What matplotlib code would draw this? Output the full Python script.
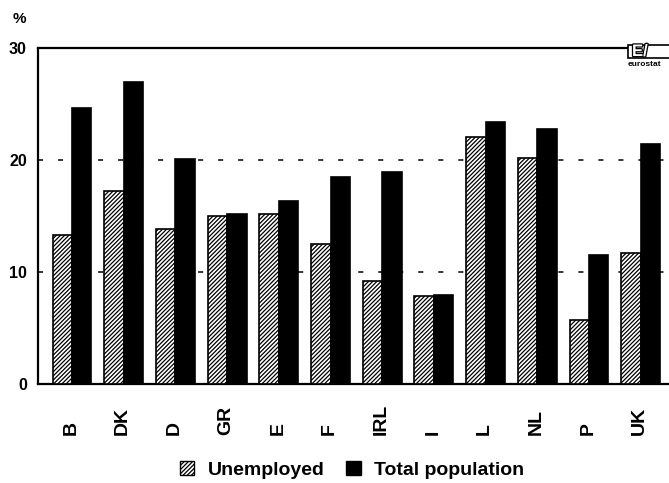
import matplotlib
matplotlib.use("Agg")
import matplotlib.pyplot as plt
import matplotlib.patheffects as pe
from matplotlib.patches import Patch, Rectangle
import matplotlib.transforms as mtransforms
import numpy as np

countries = ["B", "DK", "D", "GR", "E", "F", "IRL", "I", "L", "NL", "P", "UK"]
unemployed = [13.3, 17.2, 13.8, 15.0, 15.2, 12.5, 9.2, 7.8, 22.0, 20.2, 5.7, 11.7]
total_population = [24.6, 27.0, 20.1, 15.2, 16.3, 18.5, 18.9, 7.9, 23.4, 22.8, 11.5, 21.4]
y_ticks = [0, 10, 20, 30]
legend_labels = ["Unemployed", "Total population"]

plt.rcParams['font.family'] = ['Liberation Sans', 'DejaVu Sans']
plt.rcParams['font.weight'] = 'bold'
plt.rcParams['hatch.linewidth'] = 0.9
plt.rcParams['hatch.color'] = 'black'

W, H = 669, 483
fig = plt.figure(figsize=(W / 100, H / 100), dpi=100)
fig.patch.set_facecolor('white')

left_px, right_px, top_px, bottom_px = 38, 669, 48, 383.5
ax = fig.add_axes([left_px / W, (H - bottom_px) / H,
                   (right_px - left_px) / W, (bottom_px - top_px) / H])

x = np.arange(len(countries))
w = 0.377
HATCH = '/' * 8
ax.bar(x - w / 2, unemployed, width=w, color='white', edgecolor='black',
       linewidth=1.2, hatch=HATCH, zorder=3)
ax.bar(x + w / 2, total_population, width=w, color='black', edgecolor='black',
       linewidth=1.2, zorder=3)

group_px = 51.7
first_px = 72
ax.set_xlim(-(first_px - left_px) / group_px, (right_px - first_px) / group_px)
ax.set_ylim(0, 30)
ax.set_yticks(y_ticks)
ax.set_yticklabels([str(t) for t in y_ticks], fontsize=11.5, fontweight='bold')
ax.tick_params(axis='y', length=0, pad=8)
ax.set_xticks([])

for s in ['left', 'bottom', 'top']:
    ax.spines[s].set_linewidth(1.6)
ax.spines['right'].set_visible(False)

for g in [10, 20]:
    ax.axhline(g, color='black', linewidth=1.1, linestyle=(0, (3.3, 9.8)), zorder=1)

# category labels, rotated, bottom aligned
trans = mtransforms.blended_transform_factory(ax.transData, fig.transFigure)
for xi, c in zip(x, countries):
    ax.text(xi - 0.02, (H - 435) / H, c, transform=trans, rotation=90,
            ha='center', va='bottom', fontsize=14, fontweight='bold')

# percent sign
fig.text(19 / W, 1 - 19 / H, "%", ha='center', va='center', fontsize=11, fontweight='bold')

# eurostat logo
fig.patches.append(Rectangle((628 / W, 1 - 58 / H), 50 / W, 13 / H,
                             transform=fig.transFigure, facecolor='white',
                             edgecolor='black', linewidth=1.2, zorder=5))
t = fig.text(632 / W, 1 - 51.5 / H, "E/", ha='left', va='center', fontsize=12,
             fontweight='bold', color='white', zorder=6)
t.set_path_effects([pe.Stroke(linewidth=1.8, foreground='black'), pe.Normal()])
fig.text(628 / W, 1 - 65 / H, "eurostat", ha='left', va='center', fontsize=6,
         fontweight='bold', zorder=6)

handles = [Patch(facecolor='white', edgecolor='black', hatch=HATCH, linewidth=1.0),
           Patch(facecolor='black', edgecolor='black')]
fig.legend(handles, legend_labels, loc='center', bbox_to_anchor=(352 / W, 1 - 470 / H),
           ncol=2, frameon=False, fontsize=14, handlelength=0.75, handleheight=0.75,
           handletextpad=0.7, columnspacing=1.1, borderpad=0, borderaxespad=0)

fig.savefig("out.png", dpi=100, facecolor='white')
